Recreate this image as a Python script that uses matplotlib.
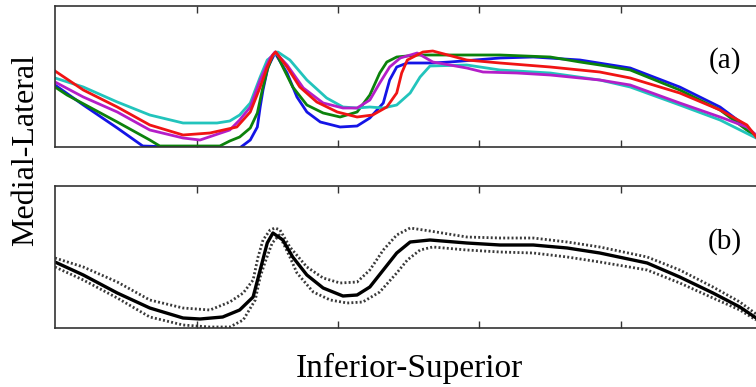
import matplotlib
matplotlib.use("Agg")
import matplotlib.pyplot as plt

# --- data (x on 0..100 inferior->superior, y = height above panel floor) ---
blue_x = [0, 4.0, 8.8, 12.4, 20.5, 26.1, 27.6, 28.6, 29.0, 29.4, 30.1, 31.1, 32.8, 34.2, 35.6, 37.5, 40.3,
          42.7, 44.5, 46.4, 47.3, 48.3, 49.8, 53.4, 55.8, 62.9, 67.6, 74.2, 81.3, 88.3, 94.0, 97.8, 99.1]
blue_y = [62, 42, 19, 1, -1, -1, 7, 20, 40, 57, 80, 94, 74, 50, 35, 25, 20,
          21, 29, 44, 67, 80, 84, 84, 85, 89, 90, 87, 79, 60, 40, 20, 10]

green_x = [0, 1.7, 8.8, 13.4, 14.8, 23.3, 24.7, 26.1, 27.6, 28.6, 29.3, 30.0, 30.8, 31.2, 32.2, 33.6, 35.6,
           37.9, 40.3, 42.7, 44.5, 45.9, 46.9, 48.3, 51.2, 53.4, 62.9, 70.0, 74.2, 77.0, 81.3, 88.3, 94.0, 99.1]
green_y = [60, 52, 25, 7, 1, 1, 6, 10, 19, 34, 57, 77, 92, 95, 80, 60, 42,
           34, 30, 35, 52, 74, 85, 90, 92, 92, 92, 90, 85, 82, 77, 57, 37, 10]

red_x = [0, 4.0, 8.8, 13.4, 18.1, 21.9, 25.7, 27.6, 29.0, 30.0, 30.8, 31.2, 32.8, 34.6, 37.0, 39.9, 42.7,
         44.9, 46.9, 48.3, 49.0, 49.8, 52.0, 53.4, 58.2, 62.9, 70.0, 77.0, 81.3, 88.3, 94.0, 97.8, 99.1]
red_y = [76, 57, 40, 22, 12, 14, 20, 35, 60, 80, 92, 95, 80, 60, 45, 35, 30,
         32, 40, 54, 74, 87, 95, 96, 87, 84, 80, 75, 69, 54, 37, 22, 10]

cyan_x = [0, 4.0, 8.8, 13.4, 18.1, 22.9, 24.7, 26.1, 27.6, 29.0, 30.0, 31.5, 33.2, 35.6, 38.4, 40.7,
          42.7, 44.5, 46.4, 48.3, 50.2, 51.6, 53.0, 58.2, 62.9, 70.0, 77.0, 81.3, 88.3, 94.0, 99.1]
cyan_y = [69, 60, 45, 32, 24, 24, 26, 32, 44, 70, 87, 95, 87, 67, 49, 40,
          39, 40, 39, 42, 54, 70, 81, 82, 77, 74, 67, 60, 42, 27, 9]

magenta_x = [0, 4.0, 8.8, 13.4, 18.1, 20.5, 24.7, 26.1, 27.6, 29.0, 30.4, 31.1, 32.8, 35.1, 37.9, 40.7, 42.7,
             44.5, 45.9, 47.3, 48.8, 51.2, 53.4, 58.2, 60.5, 65.3, 70.0, 77.0, 81.3, 88.3, 94.0, 97.8, 99.1]
magenta_y = [65, 50, 35, 17, 9, 7, 17, 27, 40, 67, 89, 95, 82, 59, 44, 39, 39,
             47, 64, 80, 89, 94, 85, 79, 75, 74, 72, 67, 62, 44, 30, 20, 12]

mean_x = [0, 4.0, 8.8, 13.4, 18.1, 20.5, 23.7, 26.1, 28.0, 29.0, 30.0, 30.8, 32.2, 33.6, 35.6, 37.9, 40.7,
          42.7, 44.5, 46.4, 48.3, 50.2, 53.0, 58.2, 62.9, 67.6, 72.4, 77.0, 83.7, 88.3, 93.0, 96.8, 99.1]
mean_y = [66, 53, 35, 20, 10, 9, 11, 18, 31, 58, 85, 95, 88, 71, 53, 40, 32,
          33, 41, 58, 75, 86, 88, 85, 83, 83, 80, 75, 65, 51, 35, 21, 10]

upper_x = [0, 4.0, 8.8, 13.4, 18.1, 21.9, 24.7, 26.6, 28.0, 28.7, 29.4, 30.4, 31.1, 31.8, 33.2, 35.6, 37.9,
           40.3, 42.7, 44.5, 46.4, 48.3, 50.2, 53.0, 58.2, 62.9, 67.6, 72.4, 77.0, 83.7, 88.3, 93.0, 96.8, 99.1]
upper_y = [70, 61, 46, 28, 20, 18, 26, 35, 48, 71, 88, 98, 100, 98, 81, 61, 50,
           45, 46, 58, 78, 93, 100, 97, 91, 90, 90, 86, 81, 71, 58, 41, 26, 14]

lower_x = [0, 4.0, 8.8, 13.4, 18.1, 21.9, 24.7, 26.6, 28.3, 29.0, 29.7, 30.7, 31.7, 33.2, 34.2, 36.5, 38.9,
           41.3, 43.5, 45.9, 48.3, 49.8, 51.6, 53.4, 58.2, 62.9, 67.6, 72.4, 77.0, 83.7, 88.3, 93.0, 96.8, 99.1]
lower_y = [61, 48, 30, 11, 3, 1, 1, 8, 28, 51, 66, 85, 93, 71, 55, 36, 28,
           25, 26, 36, 55, 68, 78, 81, 78, 76, 75, 71, 66, 58, 45, 30, 18, 8]

series = [(blue_x, blue_y, "#1414e6"), (green_x, green_y, "#0c820c"),
          (cyan_x, cyan_y, "#22c4bc"), (magenta_x, magenta_y, "#b41ec8"),
          (red_x, red_y, "#f01414")]

#===========================#

plt.rcParams['font.family'] = ['Liberation Serif', 'DejaVu Serif']

W, H = 756, 387
fig = plt.figure(figsize=(W/100, H/100), dpi=100)

def panel(top_px, bot_px):
    ax = fig.add_axes([55/W, 1 - bot_px/H, 707.5/W, (bot_px - top_px)/H])
    ax.set_xlim(0, 100)
    ax.set_ylim(0, bot_px - top_px)
    ax.set_xticks([20, 40, 60, 80])
    ax.set_yticks([])
    ax.tick_params(axis='x', direction='in', top=True, bottom=True, length=5,
                   width=1, labelbottom=False, color='#333333')
    for s in ax.spines.values():
        s.set_linewidth(1.2)
        s.set_color('#333333')
    return ax

ax1 = panel(6, 147)
for xs, ys, c in series:
    ax1.plot(xs, ys, color=c, lw=2.0, solid_joinstyle='round')

ax2 = panel(186, 328)
ax2.plot(upper_x, upper_y, color='#3a3a3a', lw=2.0, ls=(0, (0.7, 0.8)))
ax2.plot(lower_x, lower_y, color='#3a3a3a', lw=2.0, ls=(0, (0.7, 0.8)))
ax2.plot(mean_x, mean_y, color='black', lw=2.4, solid_joinstyle='round')

fig.text(26/W, 1 - 150/H, "Medial-Lateral", rotation=90, fontsize=23, ha='center', va='center')
fig.text(409/W, 1 - 368/H, "Inferior-Superior", fontsize=24, ha='center', va='center')
fig.text(725/W, 1 - 61/H, "(a)", fontsize=21, ha='center', va='center')
fig.text(725/W, 1 - 242/H, "(b)", fontsize=21, ha='center', va='center')

fig.savefig("out.png", dpi=100)
